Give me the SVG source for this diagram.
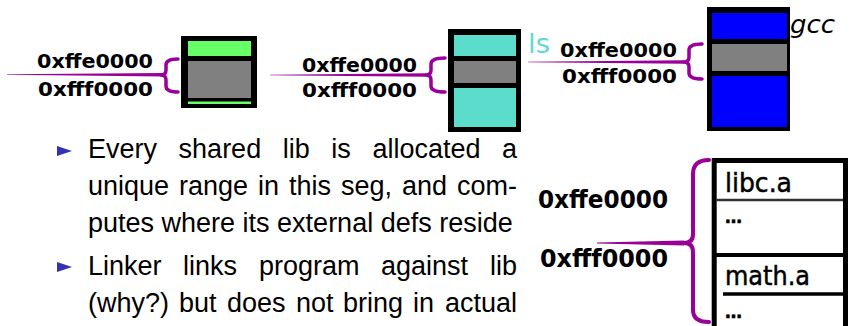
<svg xmlns="http://www.w3.org/2000/svg" width="849" height="326" viewBox="0 0 849 326">
<style>
.hex{font-family:"DejaVu Sans",sans-serif;font-weight:bold;fill:#000}
.hs{font-size:19px}
.hl{font-size:25px}
.brace{fill:none;stroke:#990099;stroke-width:3.5;stroke-linecap:round;stroke-linejoin:round}
.taper{fill:#990099}
.body{font-family:"Liberation Sans",Arial,sans-serif;font-size:27px;fill:#000}
.bullet{fill:#3333b2}
.frame{fill:#000}
.gray{fill:#808080}
.green{fill:#66ff66}
.teal{fill:#5cdccb}
.blue{fill:#0000ff}
.mono{font-family:"DejaVu Sans",sans-serif;fill:#000;stroke:#000;stroke-width:0.5}
</style>
<rect width="849" height="326" fill="#fff"/>

<g id="connectors">
  <polygon class="taper" points="7,74.2 162,73 162,76.5 7,74.8"/>
  <path class="brace" d="M178,59 Q166,59 166,65 L166,70 Q166,75 161,75 Q166,75 166,80 L166,86 Q166,92 178,92"/>
  <polygon class="taper" points="270,74.7 426,73.3 426,76.8 270,75.3"/>
  <path class="brace" d="M445,58 Q431,58 431,64 L431,70 Q431,75 426,75 Q431,75 431,80 L431,86 Q431,92 445,92"/>
  <polygon class="taper" points="528,61.7 684,60.3 684,63.8 528,62.3"/>
  <path class="brace" d="M702,44 Q689,44 689,50 L689,57 Q689,62 684,62 Q689,62 689,67 L689,73 Q689,79 702,79"/>
  <polygon class="taper" points="597,242.6 684,240.5 684,245.5 597,243.4"/>
  <path class="brace" style="stroke-width:4" d="M709,160 Q693,160 693,174 L693,234 Q693,243 684,243 Q693,243 693,252 L693,310 Q693,322 709,322"/>
</g>

<g id="box-1">
  <rect class="frame" x="181" y="36" width="76" height="72"/>
  <rect class="green" x="188" y="41" width="63" height="15"/>
  <rect class="gray" x="188" y="61" width="63" height="37"/>
  <rect class="green" x="188" y="101.5" width="63" height="2.5"/>
</g>
<g id="labels-1">
  <text class="hex hs" x="37" y="68" textLength="116" lengthAdjust="spacingAndGlyphs">0xffe0000</text>
  <text class="hex hs" x="38" y="96" textLength="115" lengthAdjust="spacingAndGlyphs">0xfff0000</text>
</g>

<g id="box-2">
  <rect class="frame" x="448" y="29" width="73" height="103"/>
  <rect class="teal" x="454" y="35" width="62" height="21"/>
  <rect class="gray" x="454" y="61" width="62" height="22"/>
  <rect class="teal" x="454" y="88" width="62" height="39"/>
</g>
<g id="labels-2">
  <text class="hex hs" x="302" y="72" textLength="115" lengthAdjust="spacingAndGlyphs">0xffe0000</text>
  <text class="hex hs" x="302" y="97" textLength="115" lengthAdjust="spacingAndGlyphs">0xfff0000</text>
</g>

<g id="ls-label">
  <text x="528" y="53" font-family="DejaVu Sans, sans-serif" font-size="26" fill="#5cdccb" textLength="22" lengthAdjust="spacingAndGlyphs">ls</text>
</g>

<g id="box-3">
  <rect class="frame" x="707" y="7" width="83" height="124"/>
  <rect class="blue" x="712" y="13" width="75" height="26"/>
  <rect class="gray" x="712" y="44" width="75" height="27"/>
  <rect class="blue" x="712" y="76" width="75" height="51"/>
</g>
<g id="labels-3">
  <text class="hex hs" x="560" y="57" textLength="117" lengthAdjust="spacingAndGlyphs">0xffe0000</text>
  <text class="hex hs" x="562" y="83" textLength="115" lengthAdjust="spacingAndGlyphs">0xfff0000</text>
</g>
<g id="gcc-label">
  <text x="790" y="33" font-family="DejaVu Sans, sans-serif" font-style="italic" font-size="25" fill="#000" textLength="45" lengthAdjust="spacingAndGlyphs">gcc</text>
</g>

<g id="box-4">
  <rect x="714.2" y="160.5" width="131.3" height="172" fill="#fff" stroke="#000" stroke-width="5"/>
  <line x1="716" y1="200" x2="843" y2="200" stroke="#333" stroke-width="2.5"/>
  <line x1="716" y1="255" x2="843" y2="255" stroke="#000" stroke-width="4"/>
  <line x1="723" y1="294" x2="843" y2="294" stroke="#000" stroke-width="3.5"/>
  <text class="mono" x="725" y="192" font-size="26" textLength="67" lengthAdjust="spacingAndGlyphs">libc.a</text>
  <text class="mono" x="725" y="223" font-size="17" font-weight="bold">…</text>
  <text class="mono" x="725" y="285" font-size="26" textLength="85" lengthAdjust="spacingAndGlyphs">math.a</text>
  <text class="mono" x="725" y="318" font-size="17" font-weight="bold">…</text>
</g>
<g id="labels-4">
  <text class="hex hl" x="538" y="208" textLength="130" lengthAdjust="spacingAndGlyphs">0xffe0000</text>
  <text class="hex hl" x="540" y="267" textLength="128" lengthAdjust="spacingAndGlyphs">0xfff0000</text>
</g>

<g id="bullets">
  <polygon class="bullet" points="57,146 72,151 57,156"/>
  <polygon class="bullet" points="57,262 72,267 57,272"/>
  <text class="body" y="158"><tspan x="88">Every</tspan><tspan x="178.6">shared</tspan><tspan x="282.7">lib</tspan><tspan x="331.3">is</tspan><tspan x="372.4">allocated</tspan><tspan x="502">a</tspan></text>
  <text class="body" y="195"><tspan x="88">unique</tspan><tspan x="179">range</tspan><tspan x="258">in</tspan><tspan x="289">this</tspan><tspan x="341">seg,</tspan><tspan x="402">and</tspan><tspan x="457">com-</tspan></text>
  <text class="body" x="88" y="232">putes where its external defs reside</text>
  <text class="body" y="275"><tspan x="88">Linker</tspan><tspan x="183">links</tspan><tspan x="259">program</tspan><tspan x="381">against</tspan><tspan x="490">lib</tspan></text>
  <text class="body" y="312"><tspan x="88">(why?)</tspan><tspan x="179">but</tspan><tspan x="227">does</tspan><tspan x="296">not</tspan><tspan x="343">bring</tspan><tspan x="413">in</tspan><tspan x="445">actual</tspan></text>
</g>
</svg>
